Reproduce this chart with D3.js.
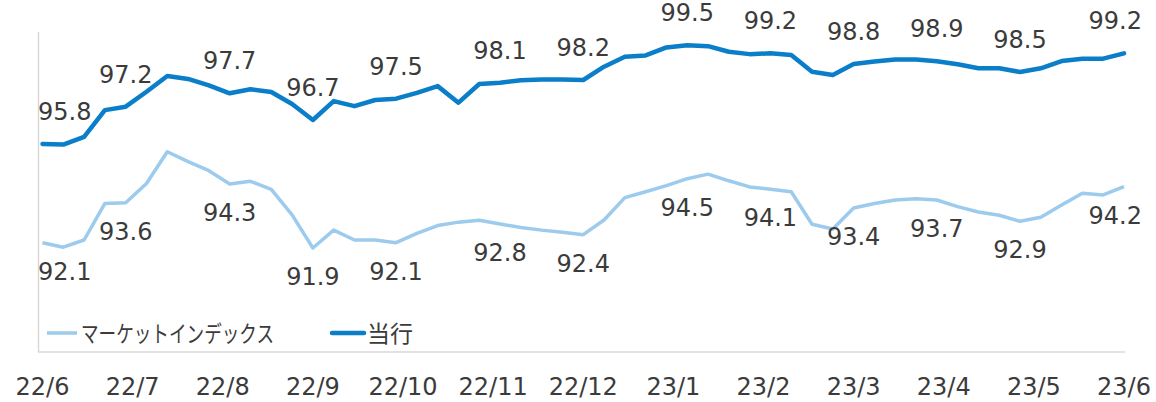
<!DOCTYPE html>
<html>
<head>
<meta charset="utf-8">
<script src="https://cdn.jsdelivr.net/npm/d3@7"></script>
<style>
  body { margin: 0; background: #fff; }
  svg { display: block; }
</style>
</head>
<body>
<svg width="1156" height="402"></svg>
<script>
// weekly values, 22/6 .. 23/6
var market = [92.1, 91.93, 92.2, 93.57, 93.6, 94.32, 95.51, 95.14, 94.8, 94.3,
  94.4, 94.1, 93.14, 91.9, 92.57, 92.2, 92.2, 92.1, 92.45, 92.74,
  92.87, 92.94, 92.8, 92.67, 92.57, 92.49, 92.4, 92.95, 93.79, 94.01,
  94.24, 94.5, 94.67, 94.42, 94.19, 94.1, 94.01, 92.79, 92.61, 93.4,
  93.57, 93.7, 93.75, 93.7, 93.45, 93.25, 93.13, 92.9, 93.05, 93.51,
  93.95, 93.89, 94.2];

var bank = [95.8, 95.78, 96.07, 97.07, 97.2, 97.76, 98.35, 98.24, 98.0, 97.7,
  97.85, 97.75, 97.3, 96.7, 97.41, 97.22, 97.45, 97.5, 97.72, 97.97,
  97.35, 98.05, 98.1, 98.19, 98.22, 98.22, 98.2, 98.7, 99.07, 99.12,
  99.42, 99.5, 99.47, 99.26, 99.17, 99.2, 99.14, 98.51, 98.39, 98.8,
  98.89, 98.97, 98.97, 98.9, 98.79, 98.64, 98.64, 98.5, 98.64, 98.91,
  99.0, 99.0, 99.2];

// weeks that carry a data label
var labelWeeks = [0, 4, 9, 13, 17, 22, 26, 31, 35, 39, 43, 47, 52];

var months = ["22/6", "22/7", "22/8", "22/9", "22/10", "22/11", "22/12",
  "23/1", "23/2", "23/3", "23/4", "23/5", "23/6"];

var seriesNames = ["マーケットインデックス", "当行"];

var svg = d3.select("svg");
var textColor = "#3b3b3b";
var lightBlue = "#9ccbed";
var darkBlue = "#0a7ec8";
var font = "'DejaVu Sans', Verdana, sans-serif";
var jpFont = "'Noto Sans CJK JP', sans-serif";

var x = d3.scaleLinear().domain([0, bank.length - 1]).range([42.5, 1124]);
var y = d3.scaleLinear().domain([88, 100]).range([352, 32]);

// axis lines (left + bottom)
svg.append("line")
  .attr("x1", 38.5).attr("x2", 38.5)
  .attr("y1", y(100)).attr("y2", y(88))
  .attr("stroke", "#d9d9d9").attr("stroke-width", 1.5);
svg.append("line")
  .attr("x1", 38).attr("x2", 1125)
  .attr("y1", y(88)).attr("y2", y(88))
  .attr("stroke", "#d9d9d9").attr("stroke-width", 1.5);

// month labels under the plot
var step = (bank.length - 1) / (months.length - 1);
svg.selectAll(".month")
  .data(months)
  .join("text")
  .attr("class", "month")
  .attr("x", (d, i) => x(i * step))
  .attr("y", 395)
  .attr("text-anchor", "middle")
  .attr("font-family", font)
  .attr("font-size", 24)
  .attr("fill", textColor)
  .text(d => d);

var line = d3.line()
  .x((d, i) => x(i))
  .y(d => y(d));

svg.append("path")
  .datum(market)
  .attr("d", line)
  .attr("fill", "none")
  .attr("stroke", lightBlue)
  .attr("stroke-width", 3.5)
  .attr("stroke-linejoin", "round");

svg.append("path")
  .datum(bank)
  .attr("d", line)
  .attr("fill", "none")
  .attr("stroke", darkBlue)
  .attr("stroke-width", 4.5)
  .attr("stroke-linejoin", "round")
  .attr("stroke-linecap", "round");

var fmt = d3.format(".1f");

var addLabels = (values, dy, cls) => {
  var t = svg.selectAll("." + cls)
    .data(labelWeeks)
    .join("text")
    .attr("class", cls)
    .attr("text-anchor", "middle")
    .attr("font-family", font)
    .attr("font-size", 24)
    .attr("fill", textColor)
    .attr("y", i => y(values[i]) + dy)
    .text(i => fmt(values[i]));
  // keep labels inside the chart area
  t.attr("x", function (i) {
    var w = this.getComputedTextLength();
    return Math.max(38 + w / 2, Math.min(1142 - w / 2, x(i)));
  });
};

addLabels(bank, -24, "lbl-bank");
addLabels(market, 37, "lbl-market");

// legend
var legend = svg.append("g");
legend.append("line")
  .attr("x1", 47).attr("x2", 77).attr("y1", 333).attr("y2", 333)
  .attr("stroke", lightBlue).attr("stroke-width", 3.5);
legend.append("text")
  .attr("x", 81).attr("y", 342)
  .attr("font-family", jpFont)
  .attr("font-size", 23)
  .attr("fill", textColor)
  .attr("textLength", 193)
  .attr("lengthAdjust", "spacingAndGlyphs")
  .text(seriesNames[0]);
legend.append("line")
  .attr("x1", 332).attr("x2", 364).attr("y1", 333).attr("y2", 333)
  .attr("stroke", darkBlue).attr("stroke-width", 4.5)
  .attr("stroke-linecap", "round");
legend.append("text")
  .attr("x", 367).attr("y", 342)
  .attr("font-family", jpFont)
  .attr("font-size", 23)
  .attr("fill", textColor)
  .text(seriesNames[1]);
</script>
</body>
</html>
